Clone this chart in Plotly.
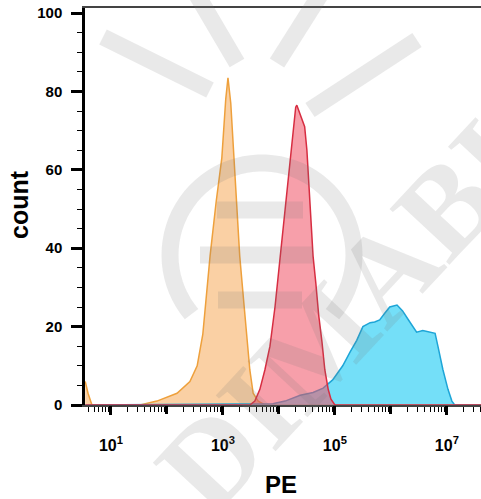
import numpy as np
import plotly.graph_objects as go

# ---- data (x as log10 exponents of PE intensity, y = count) ----
orange_exp = [0.54, 0.59, 0.66, 1.52, 1.82, 2.18, 2.41, 2.54, 2.64, 2.77, 2.88, 2.98, 3.05, 3.09,
              3.14, 3.20, 3.27, 3.30, 3.38, 3.43, 3.48, 3.54, 3.63, 3.75, 7.61]
orange_cnt = [6, 3, 0, 0, 1, 3, 6, 10, 18, 38, 52, 63, 78, 83.5,
              77, 62, 45, 38, 25, 17, 9, 3, 1, 0, 0]

red_exp = [0.54, 3.48, 3.57, 3.66, 3.75, 3.84, 3.93, 3.98, 4.07, 4.13, 4.20, 4.25, 4.30, 4.32,
           4.36, 4.41, 4.46, 4.50, 4.54, 4.57, 4.61, 4.66, 4.71, 4.77, 4.82, 4.88, 4.93, 5.00, 7.61]
red_cnt = [0, 0, 1, 4, 9, 15, 25, 32, 45, 52, 62, 70, 76, 76.5,
           75, 73, 71, 65, 55, 45, 38, 31, 23, 16, 9, 4, 1.5, 0, 0]

blue_exp = [0.54, 3.89, 4.11, 4.38, 4.61, 4.79, 4.96, 5.14, 5.27, 5.39, 5.50, 5.63, 5.71, 5.80,
            5.89, 5.98, 6.11, 6.21, 6.30, 6.39, 6.46, 6.57, 6.70, 6.79, 6.84, 6.93, 7.02, 7.09,
            7.14, 7.61]
blue_cnt = [0, 0.3, 1, 2.5, 3.2, 4.3, 6.4, 10, 13.5, 16.5, 20, 21, 21.2, 21.7,
            23.4, 25, 25.5, 24, 22, 20, 18.6, 19, 18.6, 18.3, 15, 9, 4, 1,
            0, 0]

y_ticks = [0, 20, 40, 60, 80, 100]
x_label_decades = [1, 3, 5, 7]
x_labels = ["10<sup>1</sup>", "10<sup>3</sup>", "10<sup>5</sup>", "10<sup>7</sup>"]
x_all_decades = [1, 2, 3, 4, 5, 6, 7]

FONT = "Liberation Sans, Arial, sans-serif"
XRANGE = [0.536, 7.61]

fig = go.Figure()

series = [
    (orange_exp, orange_cnt, "rgba(246,170,90,0.55)", "rgb(238,160,60)"),
    (blue_exp, blue_cnt, "rgba(50,208,245,0.68)", "rgb(30,165,215)"),
    (red_exp, red_cnt, "rgba(240,80,100,0.55)", "rgb(215,45,65)"),
]
for ex, cn, fc, lc in series:
    fig.add_trace(go.Scatter(
        x=[10 ** e for e in ex], y=cn, mode="lines",
        line=dict(color=lc, width=1.5), fill="tozeroy", fillcolor=fc,
        showlegend=False, hoverinfo="skip"))

# ---- layout geometry helpers (plot area in pixels) ----
L, R, T, B = 85, 481, 8, 405
W, H = R - L, B - T


def px(x, y):
    return (x - L) / W, (B - y) / H


WM = "rgba(120,120,120,0.16)"
shapes = []
# watermark logo bars
for (x0, y0, x1, y1) in [(103, 37, 210, 90), (417, 40, 310, 110), (197, -5, 237, 63),
                         (320, -5, 277, 63), (217, 210, 303, 210), (200, 255, 313, 255),
                         (218, 300, 302, 300)]:
    a = px(x0, y0)
    b = px(x1, y1)
    shapes.append(dict(type="line", xref="paper", yref="paper", x0=a[0], y0=a[1], x1=b[0], y1=b[1],
                       line=dict(color=WM, width=17), layer="above"))
# watermark ring (open at the top)
cx, cy, r = 262, 255, 92
ang = np.linspace(np.deg2rad(140), np.deg2rad(400), 60)
pts = [px(cx + r * np.cos(t), cy + r * np.sin(t)) for t in ang]
path = "M " + " L ".join(f"{p[0]:.4f},{p[1]:.4f}" for p in pts)
shapes.append(dict(type="path", xref="paper", yref="paper", path=path,
                   line=dict(color=WM, width=17), layer="above"))

annotations = [
    dict(text="<b>DIMABIO</b>", xref="paper", yref="paper", x=px(377, 281)[0], y=px(377, 281)[1],
         xanchor="center", yanchor="middle",
         showarrow=False, textangle=-47, font=dict(family="Liberation Serif, serif", size=125, color=WM)),
    dict(text="<b>count</b>", xref="paper", yref="paper", x=px(19, 205)[0], y=px(19, 205)[1],
         xanchor="center", yanchor="middle",
         showarrow=False, textangle=-90, font=dict(family=FONT, size=25, color="black")),
    dict(text="<b>PE</b>", xref="paper", yref="paper", x=px(281, 484)[0], y=px(281, 484)[1],
         xanchor="center", yanchor="middle",
         showarrow=False, font=dict(family=FONT, size=24, color="black")),
]

fig.update_layout(
    width=481, height=499,
    margin=dict(l=L, r=481 - R, t=T, b=499 - B),
    paper_bgcolor="white", plot_bgcolor="white",
    shapes=shapes, annotations=annotations,
    xaxis=dict(type="log", range=XRANGE, showgrid=False, zeroline=False,
               tickmode="array", tickvals=[10 ** d for d in x_label_decades], ticktext=x_labels,
               ticks="outside", ticklen=8, tickwidth=2.5, tickcolor="black",
               minor=dict(dtick="D1", ticks="outside", ticklen=5, tickwidth=1.2, tickcolor="black"),
               showline=True, linecolor="#444", linewidth=2, mirror=True,
               ticklabelstandoff=17,
               tickfont=dict(family=FONT, size=16, color="black", weight="bold")),
    xaxis2=dict(type="log", range=XRANGE, overlaying="x", side="bottom", anchor="y",
                showgrid=False, zeroline=False, showticklabels=False,
                tickmode="array", tickvals=[10 ** d for d in x_all_decades],
                ticks="outside", ticklen=8, tickwidth=2.5, tickcolor="black", showline=False),
    yaxis=dict(range=[0, 101.3], showgrid=False, zeroline=False,
               tickmode="array", tickvals=y_ticks, ticktext=[str(v) for v in y_ticks],
               ticks="outside", ticklen=11, tickwidth=2.5, tickcolor="black",
               minor=dict(dtick=5, ticks="outside", ticklen=5, tickwidth=1.2, tickcolor="black"),
               showline=True, linecolor="black", linewidth=2.5,
               ticklabelstandoff=6,
               tickfont=dict(family=FONT, size=15, color="black", weight="bold")),
)
# invisible helper trace so the second x axis (all decade ticks) is drawn
fig.add_trace(go.Scatter(x=[10 ** XRANGE[0]], y=[0], xaxis="x2", mode="markers",
                         marker=dict(opacity=0), showlegend=False, hoverinfo="skip"))

fig.write_html("out.html")
